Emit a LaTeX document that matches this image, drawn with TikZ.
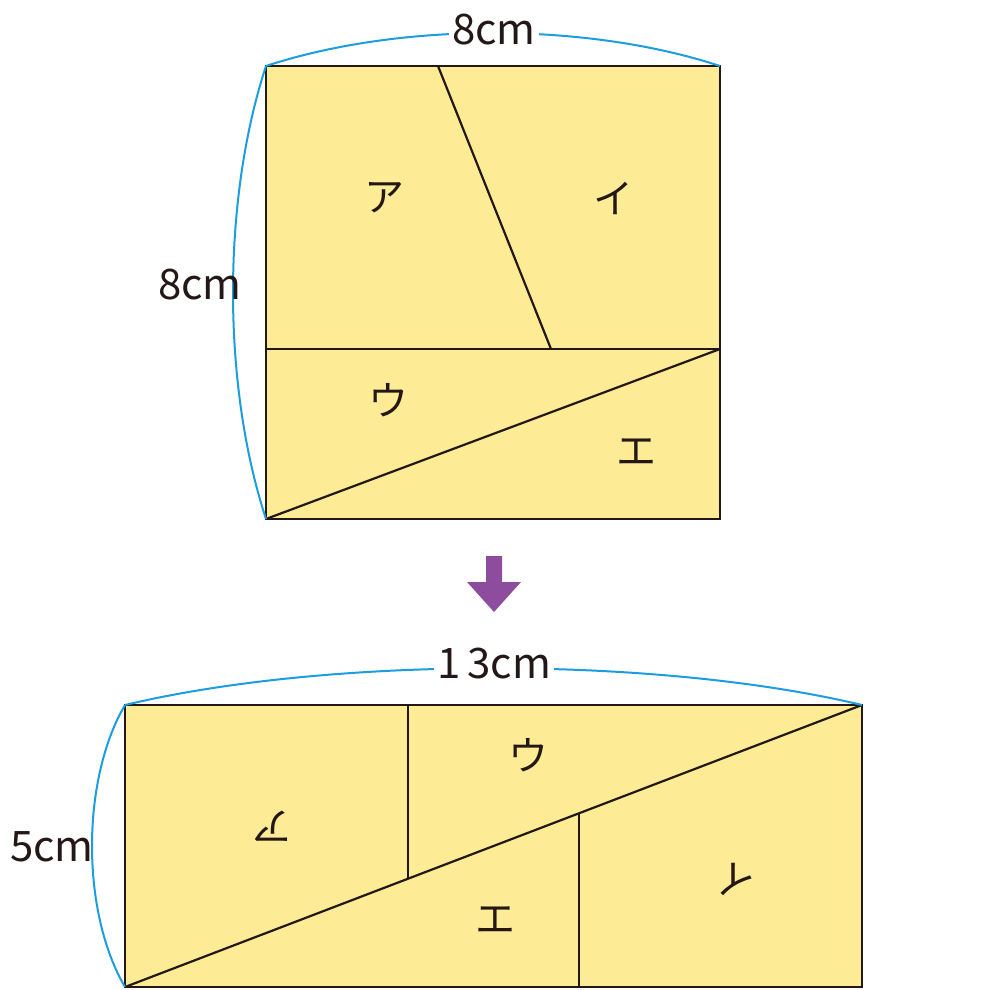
\documentclass[tikz,border=0pt]{standalone}
\usepackage{fontspec}
\newfontfamily\jp{Noto Sans CJK JP}
\definecolor{fillY}{HTML}{FDEC95}
\definecolor{ln}{HTML}{231815}
\definecolor{bl}{HTML}{1B9DE0}
\definecolor{pu}{HTML}{8E4C9E}
\begin{document}
\begin{tikzpicture}[x=1pt,y=-1pt,
  edge/.style={draw=ln,line width=2.2pt},
  dim/.style={draw=bl,line width=2pt},
  lab/.style={font=\jp\fontsize{40}{40}\selectfont,text=ln},
  dimlab/.style={font=\jp\fontsize{42}{42}\selectfont,text=ln,fill=white,inner sep=3pt}]
\useasboundingbox (0,0) rectangle (988,990);
% top square
\coordinate (A) at (266,66); \coordinate (B) at (720,66);
\coordinate (C) at (720,519); \coordinate (D) at (266,519);
\coordinate (P) at (438,66); \coordinate (Q) at (551,349);
\coordinate (L) at (266,349); \coordinate (R) at (720,349);
\fill[fillY] (A) rectangle (C);
\draw[edge] (A) rectangle (C);
\draw[edge] (P) -- (Q); \draw[edge] (L) -- (R); \draw[edge] (D) -- (R);
\node[lab] (a1) at (384,198) {ア};
\node[lab] (i1) at (613,198) {イ};
\node[lab] (u1) at (388,400) {ウ};
\node[lab] (e1) at (636,452) {エ};
\draw[dim] (A) .. controls (400,22) and (586,22) .. (B);
\draw[dim] (A) .. controls (222,200) and (222,385) .. (D);
\node[dimlab] (t8) at (494,30) {8cm};
\node[dimlab,fill=none] (l8) at (200,285) {8cm};
% arrow
\fill[pu] (486,556) -- (502,556) -- (502,582) -- (521,582) -- (494,612) -- (467,582) -- (486,582) -- cycle;
% bottom rectangle
\coordinate (E) at (125,705); \coordinate (F) at (862,705);
\coordinate (G) at (862,987); \coordinate (H) at (125,987);
\coordinate (V1) at (408,705); \coordinate (V1b) at (408,878);
\coordinate (V2) at (579,814); \coordinate (V2b) at (579,987);
\fill[fillY] (E) rectangle (G);
\draw[edge] (E) rectangle (G);
\draw[edge] (V1) -- (V1b); \draw[edge] (V2) -- (V2b); \draw[edge] (H) -- (F);
\node[lab,rotate=180] (a2) at (272,826) {ア};
\node[lab,rotate=180] (i2) at (735,880) {イ};
\node[lab] (u2) at (528,755) {ウ};
\node[lab] (e2) at (495,920) {エ};
\draw[dim] (E) .. controls (330,656) and (657,656) .. (F);
\draw[dim] (E) .. controls (81,780) and (81,912) .. (H);
\node[dimlab] (t13) at (494,664) {1\,3cm};
\node[dimlab,fill=none] (l5) at (52,847) {5cm};
\end{tikzpicture}
\end{document}
